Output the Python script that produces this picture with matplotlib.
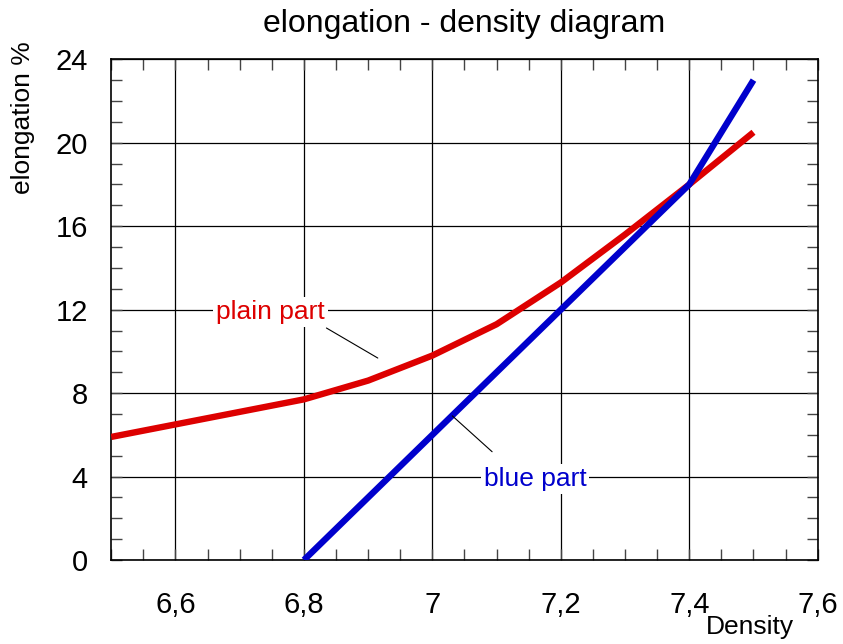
import matplotlib
matplotlib.use("Agg")
import matplotlib.pyplot as plt
from matplotlib.ticker import MultipleLocator, FixedLocator, FuncFormatter

plt.rcParams["font.family"] = ["Liberation Sans", "DejaVu Sans"]

# ── data ──
plain_density = [6.5, 6.6, 6.7, 6.8, 6.9, 7.0, 7.1, 7.2, 7.3, 7.4, 7.5]
plain_elong = [5.9, 6.5, 7.1, 7.7, 8.6, 9.8, 11.3, 13.3, 15.6, 18.0, 20.5]
blue_density = [6.8, 7.4, 7.5]
blue_elong = [0.0, 18.0, 23.0]

x_major = [6.6, 6.8, 7.0, 7.2, 7.4, 7.6]
y_major = [0, 4, 8, 12, 16, 20, 24]

# label text position, leader line start, leader line end
plain_label = ("plain part", (6.748, 11.88), (6.835, 11.12), (6.915, 9.68))
blue_label = ("blue part", (7.160, 3.88), (7.031, 6.91), (7.093, 5.19))

RED = "#dd0000"
BLUE = "#0000cc"

fig = plt.figure(figsize=(8.43, 6.44), dpi=100)
ax = fig.add_axes([0.132, 0.1304, 0.838, 0.7776])

ax.plot(plain_density, plain_elong, color=RED, lw=4.6, solid_capstyle="butt", zorder=3)
ax.plot(blue_density, blue_elong, color=BLUE, lw=4.6, solid_capstyle="butt", zorder=3)

ax.set_xlim(6.5, 7.6)
ax.set_ylim(0, 24)
ax.xaxis.set_major_locator(FixedLocator(x_major))
ax.yaxis.set_major_locator(FixedLocator(y_major))
ax.xaxis.set_minor_locator(MultipleLocator(0.05))
ax.yaxis.set_minor_locator(MultipleLocator(1))
ax.xaxis.set_major_formatter(FuncFormatter(lambda v, p: f"{v:g}".replace(".", ",")))
ax.yaxis.set_major_formatter(FuncFormatter(lambda v, p: f"{v:g}"))

ax.grid(True, which="major", color="black", lw=0.9, zorder=1)
ax.tick_params(which="both", direction="in", top=True, right=True, color="#444444")
ax.tick_params(which="minor", length=8, width=1)
ax.tick_params(which="major", length=8, width=1)
ax.tick_params(axis="x", which="major", pad=22, labelsize=21)
ax.tick_params(axis="y", which="major", pad=17, labelsize=21)
for s in ax.spines.values():
    s.set_linewidth(1.2)

for (txt, pos, l0, l1), col in ((plain_label, RED), (blue_label, BLUE)):
    ax.annotate("", xy=l1, xytext=l0,
                arrowprops=dict(arrowstyle="-", color="black", lw=0.8,
                                shrinkA=0, shrinkB=0), zorder=4)
    ax.text(pos[0], pos[1], txt, color=col, fontsize=19, ha="center", va="center",
            bbox=dict(facecolor="white", edgecolor="none", pad=2), zorder=5)

fig.text(0.55, 1 - 24 / 644, "elongation - density diagram", fontsize=23,
         ha="center", va="center")
fig.text(0.027, 0.8176, "elongation %", fontsize=19, rotation=90,
         ha="center", va="center")
fig.text(0.89, 0.026, "Density", fontsize=19, ha="center", va="center")

fig.savefig("out.png", dpi=100)
